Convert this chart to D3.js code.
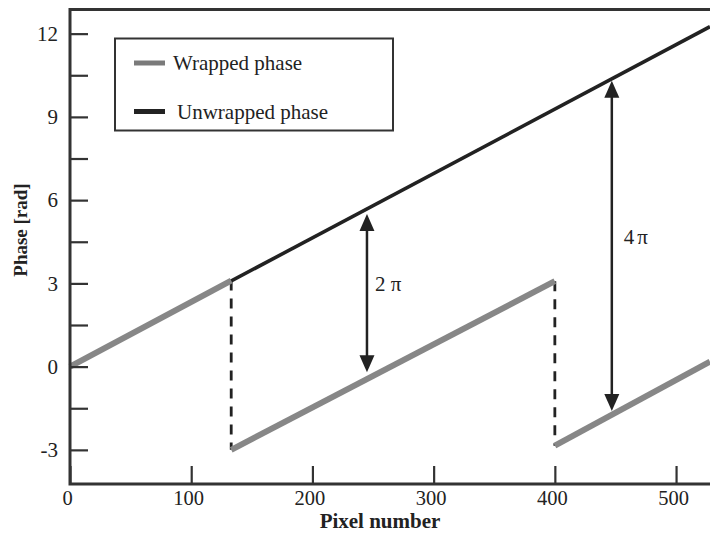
<!DOCTYPE html>
<html>
<head>
<meta charset="utf-8">
<script src="https://cdn.jsdelivr.net/npm/d3@7"></script>
<style>
  html, body { margin: 0; padding: 0; background: #fff; }
  svg { display: block; }
  text { font-family: "Liberation Serif", "Times New Roman", serif; fill: #222; }
</style>
</head>
<body>
<svg id="chart" width="710" height="538"></svg>
<script>
// ---- data ----
const unwrapPixel = [0, 528];
const unwrapPhase = [0, 12.25];

const wrapStartPixel = [0, 133, 400];
const wrapEndPixel   = [133, 400, 528];
const wrapStartPhase = [0, -3.0, -2.85];
const wrapEndPhase   = [3.1, 3.08, 0.18];

const jumpPixel  = [133, 400];
const jumpTop    = [3.1, 3.08];
const jumpBottom = [-3.0, -2.85];

const arrowPixel  = [245, 447];
const arrowTop    = [5.5, 10.3];
const arrowBottom = [-0.2, -1.6];
const arrowLabel  = ["2 \u03C0", "4\u03C0"];

const xTicks = [0, 100, 200, 300, 400, 500];
const yTicks = [-3, -1.5, 0, 1.5, 3, 4.5, 6, 7.5, 9, 10.5, 12];
const yTickLabels = ["-3", "", "0", "", "3", "", "6", "", "9", "", "12"];

const legendNames = ["Wrapped phase", "Unwrapped phase"];
const xTitle = "Pixel number";
const yTitle = "Phase [rad]";

(function () {
// ---- layout ----
const svg = d3.select("#chart");
const mLeft = 70, mRight = 710, mTop = 9.5, mBottom = 484;
const x = d3.scaleLinear().domain([0, 528]).range([mLeft, mRight]);
const y = d3.scaleLinear().domain([-4.23, 12.87]).range([mBottom, mTop]);

const gray = "#878787", dark = "#222", axisCol = "#333";

// unwrapped line
const line = d3.line().x(d => x(d[0])).y(d => y(d[1]));
svg.append("path")
  .attr("d", line(unwrapPixel.map((p, i) => [p, unwrapPhase[i]])))
  .attr("stroke", dark).attr("stroke-width", 3.6).attr("fill", "none");

// dashed jumps
svg.selectAll(".jump").data(jumpPixel).enter().append("line")
  .attr("x1", d => x(d)).attr("x2", d => x(d))
  .attr("y1", (d, i) => y(jumpTop[i])).attr("y2", (d, i) => y(jumpBottom[i]))
  .attr("stroke", dark).attr("stroke-width", 2.8).attr("stroke-dasharray", "10,8");

// wrapped segments
svg.selectAll(".wrap").data(wrapStartPixel).enter().append("path")
  .attr("d", (d, i) => line([[d, wrapStartPhase[i]], [wrapEndPixel[i], wrapEndPhase[i]]]))
  .attr("stroke", gray).attr("stroke-width", 6).attr("fill", "none");

// axes
const yAxis = d3.axisLeft(y).tickValues(yTicks)
  .tickFormat((d, i) => yTickLabels[i]).tickSizeInner(-18).tickSizeOuter(0).tickPadding(12);
const gy = svg.append("g").attr("transform", `translate(${mLeft},0)`).call(yAxis);
gy.select(".domain").remove();
gy.selectAll("line").attr("stroke", axisCol).attr("stroke-width", 2.2);
gy.selectAll("text").attr("font-size", 21).attr("fill", "#222")
  .attr("font-family", "Liberation Serif");

const xAxis = d3.axisBottom(x).tickValues(xTicks).tickFormat(d3.format("d"))
  .tickSizeInner(-18).tickSizeOuter(0).tickPadding(6);
const gx = svg.append("g").attr("transform", `translate(0,${mBottom})`).call(xAxis);
gx.select(".domain").remove();
gx.selectAll("line").attr("stroke", axisCol).attr("stroke-width", 2.2);
gx.selectAll("text").attr("font-size", 20.5).attr("fill", "#222")
  .attr("font-family", "Liberation Serif").attr("dx", "-3");

// frame (left, bottom, top)
svg.append("path")
  .attr("d", `M${mRight},${mTop}H${mLeft}V${mBottom}H${mRight}`)
  .attr("fill", "none").attr("stroke", axisCol).attr("stroke-width", 3);

// arrows
const head = 17, hw = 7.5;
const labelDx = [8, 12];
const labelSpacing = [0, 3];
arrowPixel.forEach((p, i) => {
  const ax = x(p), yt = y(arrowTop[i]), yb = y(arrowBottom[i]);
  svg.append("line").attr("x1", ax).attr("x2", ax).attr("y1", yt + head - 2).attr("y2", yb - head + 2)
    .attr("stroke", dark).attr("stroke-width", 2.5);
  svg.append("path").attr("d", `M${ax},${yt}L${ax - hw},${yt + head}L${ax + hw},${yt + head}Z`).attr("fill", dark);
  svg.append("path").attr("d", `M${ax},${yb}L${ax - hw},${yb - head}L${ax + hw},${yb - head}Z`).attr("fill", dark);
  svg.append("text").attr("x", ax + labelDx[i]).attr("y", y((arrowTop[i] + arrowBottom[i]) / 2) - 2)
    .attr("font-size", 21).attr("letter-spacing", labelSpacing[i]).text(arrowLabel[i]);
});

// legend
svg.append("rect").attr("x", 115).attr("y", 38.5).attr("width", 278).attr("height", 92)
  .attr("fill", "#fff").attr("stroke", axisCol).attr("stroke-width", 2);
const legColors = ["#7a7a7a", dark];
const legY = [63, 111.5];
const legTextX = [173, 177];
legendNames.forEach((n, i) => {
  svg.append("line").attr("x1", 134).attr("x2", 165).attr("y1", legY[i]).attr("y2", legY[i])
    .attr("stroke", legColors[i]).attr("stroke-width", 5);
  svg.append("text").attr("x", legTextX[i]).attr("y", legY[i] + 7).attr("font-size", 21).text(n);
});

// axis titles
svg.append("text").attr("x", 380).attr("y", 528).attr("text-anchor", "middle")
  .attr("font-size", 21).attr("font-weight", "bold").text(xTitle);
svg.append("text").attr("transform", "translate(27,230) rotate(-90)").attr("text-anchor", "middle")
  .attr("font-size", 19).attr("font-weight", "bold").text(yTitle);
})();
</script>
</body>
</html>
